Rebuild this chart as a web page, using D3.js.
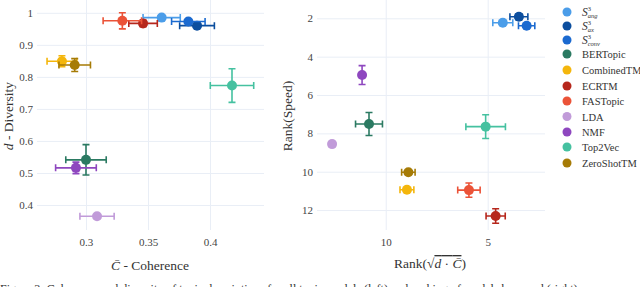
<!DOCTYPE html>
<meta charset="utf-8">
<style>
  body { margin: 0; background: #fff; }
  text { font-family: "Liberation Serif", "DejaVu Serif", serif; fill: #333; }
  .tick line { stroke: #e9eef6; }
  .tick text { font-size: 11px; fill: #444; }
</style>
<svg width="640" height="287"></svg>
<script src="https://d3js.org/d3.v7.min.js"></script>
<script>

    // model order as in the legend
    var models = ["ang", "ax", "conv", "BERTopic", "CombinedTM", "ECRTM", "FASTopic", "LDA", "NMF", "Top2Vec", "ZeroShotTM"];
    var colors = ["#4b9de9", "#0c4e9e", "#1b6ad0", "#2b7a62", "#f4b60c", "#b6271c", "#eb5338", "#c19bd9", "#8e47bf", "#45c1a0", "#a67b06"];

    // left: coherence vs diversity
    var coherence = [0.361, 0.3895, 0.3825, 0.300, 0.2806, 0.346, 0.3293, 0.3089, 0.2919, 0.4177, 0.2909];
    var coherenceErr = [0.015, 0.014, 0.0135, 0.0163, 0.012, 0.0115, 0.0155, 0.0138, 0.0164, 0.0175, 0.0127];
    var diversity = [0.985, 0.960, 0.973, 0.541, 0.849, 0.967, 0.975, 0.365, 0.516, 0.773, 0.837];
    var diversityErr = [0.004, 0.004, 0.005, 0.0475, 0.017, 0.01, 0.025, 0.003, 0.018, 0.0525, 0.02];

    // right: rank of sqrt(d*C) vs rank of speed
    var rankScore = [4.26, 3.47, 3.09, 10.82, 8.96, 4.61, 5.92, 12.63, 11.16, 5.1, 8.89];
    var rankScoreErr = [0.49, 0.44, 0.4, 0.66, 0.34, 0.47, 0.55, 0.08, 0.1, 0.97, 0.33];
    var rankSpeed = [2.23, 1.92, 2.39, 7.51, 10.94, 12.31, 10.96, 8.56, 4.96, 7.65, 10.03];
    var rankSpeedErr = [0.08, 0.15, 0.12, 0.6, 0.12, 0.38, 0.37, 0.12, 0.49, 0.62, 0.1];

    var leftXTicks = [0.3, 0.35, 0.4];
    var leftYTicks = [0.4, 0.5, 0.6, 0.7, 0.8, 0.9, 1];
    var rightXTicks = [5, 10];
    var rightYTicks = [2, 4, 6, 8, 10, 12];

    var svg = d3.select("svg");
    var plotTop = 0, plotBottom = 230;

    function panel(x, y, xTicks, yTicks, xs, xe, ys, ye) {
        var fmt = function (d) { return String(d); };
        var g = svg.append("g");
        g.append("g")
            .attr("transform", "translate(0," + plotBottom + ")")
            .call(d3.axisBottom(x).tickValues(xTicks).tickSize(-(plotBottom - plotTop)).tickPadding(8).tickFormat(fmt))
            .call(function (a) { a.select(".domain").remove(); });
        g.append("g")
            .attr("transform", "translate(" + x.range()[0] + ",0)")
            .call(d3.axisLeft(y).tickValues(yTicks).tickSize(-(x.range()[1] - x.range()[0])).tickPadding(4).tickFormat(fmt))
            .call(function (a) { a.select(".domain").remove(); });

        var cap = 3.5;
        g.selectAll(".pt").data(models).enter().append("g").each(function (m, i) {
            var s = d3.select(this), c = colors[i];
            var cx = x(xs[i]), cy = y(ys[i]);
            var x0 = x(xs[i] - xe[i]), x1 = x(xs[i] + xe[i]);
            var y0 = y(ys[i] - ye[i]), y1 = y(ys[i] + ye[i]);
            s.append("path")
                .attr("d", "M" + x0 + "," + cy + "H" + x1 +
                    "M" + x0 + "," + (cy - cap) + "V" + (cy + cap) +
                    "M" + x1 + "," + (cy - cap) + "V" + (cy + cap) +
                    "M" + cx + "," + y0 + "V" + y1 +
                    "M" + (cx - cap) + "," + y0 + "H" + (cx + cap) +
                    "M" + (cx - cap) + "," + y1 + "H" + (cx + cap))
                .attr("stroke", c).attr("stroke-width", 1.6).attr("fill", "none");
            s.append("circle").attr("cx", cx).attr("cy", cy).attr("r", 5).attr("fill", c);
        });
        return g;
    }

    var xL = d3.scaleLinear().domain([0.2605, 0.4435]).range([37, 264]);
    var yL = d3.scaleLinear().domain([0.322, 1.04]).range([plotBottom, plotTop]);
    panel(xL, yL, leftXTicks, leftYTicks, coherence, coherenceErr, diversity, diversityErr);

    var xR = d3.scaleLinear().domain([13.37, 2.19]).range([317, 545]);
    var yR = d3.scaleLinear().domain([1.045, 13.04]).range([plotTop, plotBottom]);
    panel(xR, yR, rightXTicks, rightYTicks, rankScore, rankScoreErr, rankSpeed, rankSpeedErr);

    // axis titles
    var t = svg.append("text").attr("x", 150).attr("y", 270).attr("text-anchor", "middle").attr("font-size", 13.5);
    t.append("tspan").attr("font-style", "italic").text("C\u0304");
    t.append("tspan").text(" - Coherence");

    t = svg.append("text").attr("transform", "translate(13,116) rotate(-90)").attr("text-anchor", "middle").attr("font-size", 13.5);
    t.append("tspan").attr("font-style", "italic").text("d");
    t.append("tspan").text(" - Diversity");

    t = svg.append("text").attr("transform", "translate(292,116) rotate(-90)").attr("text-anchor", "middle").attr("font-size", 13.5)
        .text("Rank(Speed)");

    t = svg.append("text").attr("x", 430).attr("y", 268).attr("text-anchor", "middle").attr("font-size", 13.5);
    t.append("tspan").text("Rank(\u221A");
    var rad = t.append("tspan").style("text-decoration", "overline");
    rad.append("tspan").attr("font-style", "italic").text("d");
    rad.append("tspan").text(" \u00B7 ");
    rad.append("tspan").attr("font-style", "italic").text("C\u0304");
    t.append("tspan").text(")");

    // legend
    var lg = svg.append("g").attr("transform", "translate(567,0)");
    var rowY = [12, 26, 40, 54, 70, 86, 101, 116.5, 132, 147, 163];
    models.forEach(function (m, i) {
        lg.append("circle").attr("cx", 0).attr("cy", rowY[i]).attr("r", 4.5).attr("fill", colors[i]);
        var lt = lg.append("text").attr("x", 15).attr("y", rowY[i] + 4).attr("font-size", 10.5);
        if (i < 3) {
            lt.append("tspan").attr("font-style", "italic").attr("font-size", 11.5).text("S");
            lt.append("tspan").attr("font-size", 6.5).attr("dy", -5).text("3");
            lt.append("tspan").attr("font-size", 6.5).attr("dx", -3.3).attr("dy", 7).attr("font-style", "italic").text(m);
        } else {
            lt.text(m);
        }
    });

    // caption (cut off at the bottom of the picture)
    svg.append("text").attr("x", 0).attr("y", 293).attr("font-size", 12).attr("fill", "#222")
        .text("Figure 3: Coherence and diversity of topic descriptions for all topic models (left) and ranking of models by speed (right).");

</script>
